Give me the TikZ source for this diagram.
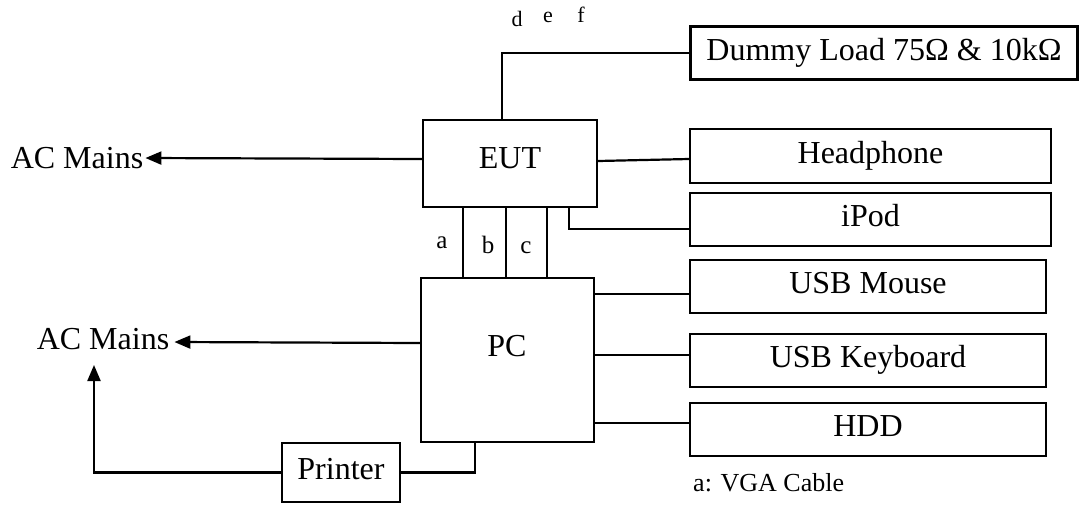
\documentclass[tikz,border=0pt]{standalone}
\usepackage{fontspec}
\setmainfont{Liberation Serif}
\usetikzlibrary{arrows.meta}
\begin{document}
\begin{tikzpicture}[x=1pt,y=-1pt,
  every node/.style={font=\fontsize{32}{38}\selectfont},
  box/.style={draw,line width=2.2pt,inner sep=0pt,text height=22pt,text depth=8pt},
  txt/.style={inner sep=0pt,text height=22pt,text depth=8pt},
  small/.style={font=\fontsize{25}{28}\selectfont,inner sep=0pt,anchor=base},
  tiny/.style={font=\fontsize{22}{26}\selectfont,inner sep=0pt,anchor=base},
  wire/.style={line width=2.2pt},
  arr/.style={line width=2.2pt,-{Triangle[length=16pt,width=13pt]}}]
\useasboundingbox (0,0) rectangle (1081,504);
% boxes
\node[box,minimum width=174pt,minimum height=87pt] (EUT) at (510,163.5) {};
\node[txt] (EUTt) at (510,161) {EUT};
\node[box,minimum width=173pt,minimum height=164pt] (PC) at (507.5,360) {};
\node[txt] (PCt) at (507,349.5) {PC};
\node[box,minimum width=387pt,minimum height=53pt] (Dummy) at (884,53) {Dummy Load 75Ω \& 10kΩ};
\node[box,minimum width=361pt,minimum height=54pt] (Head) at (870.5,156) {Headphone};
\node[box,minimum width=361pt,minimum height=53pt] (iPod) at (870.5,219.5) {iPod};
\node[box,minimum width=356pt,minimum height=53pt] (Mouse) at (868,286.5) {USB Mouse};
\node[box,minimum width=356pt,minimum height=53pt] (Kbd) at (868,360.5) {USB Keyboard};
\node[box,minimum width=356pt,minimum height=53pt] (HDD) at (868,429.5) {HDD};
\node[box,minimum width=118pt,minimum height=59pt] (Printer) at (341,472.5) {Printer};
% AC mains
\node[txt,inner sep=2pt] (AC1) at (77,161) {AC Mains};
\node[txt,inner sep=5pt] (AC2) at (103,342) {AC Mains};
\coordinate (up) at (94,365);
% labels
\node[small] (la) at (442,248) {a};
\node[small] (lb) at (488,253) {b};
\node[small] (lc) at (526,253) {c};
\node[tiny] (ld) at (517,26) {d};
\node[tiny] (le) at (548,22) {e};
\node[tiny] (lf) at (581,22) {f};
\node[anchor=west,inner sep=0pt,font=\fontsize{26}{30}\selectfont] (vga) at (693,483) {a: VGA Cable};
% connectors
\draw[arr] (EUT.west |- 0,159) -- (AC1.east |- 0,158);
\draw[arr] (PC.west |- 0,343) -- (AC2.east |- 0,342);
\draw[arr] (Printer.west) -| (up);
\draw[wire] (PC.south -| 475,0) |- (Printer.east);
\draw[wire] (EUT.north -| 502,0) |- (Dummy.west);
\draw[wire] (EUT.east |- 0,161) -- (Head.west |- 0,159);
\draw[wire] (EUT.south -| 569,0) |- (iPod.west |- 0,229);
\draw[wire] (EUT.south -| 463,0) -- (PC.north -| 463,0);
\draw[wire] (EUT.south -| 506,0) -- (PC.north -| 506,0);
\draw[wire] (EUT.south -| 547,0) -- (PC.north -| 547,0);
\draw[wire] (PC.east |- 0,294) -- (Mouse.west |- 0,294);
\draw[wire] (PC.east |- 0,355) -- (Kbd.west |- 0,355);
\draw[wire] (PC.east |- 0,423) -- (HDD.west |- 0,423);
\end{tikzpicture}
\end{document}
